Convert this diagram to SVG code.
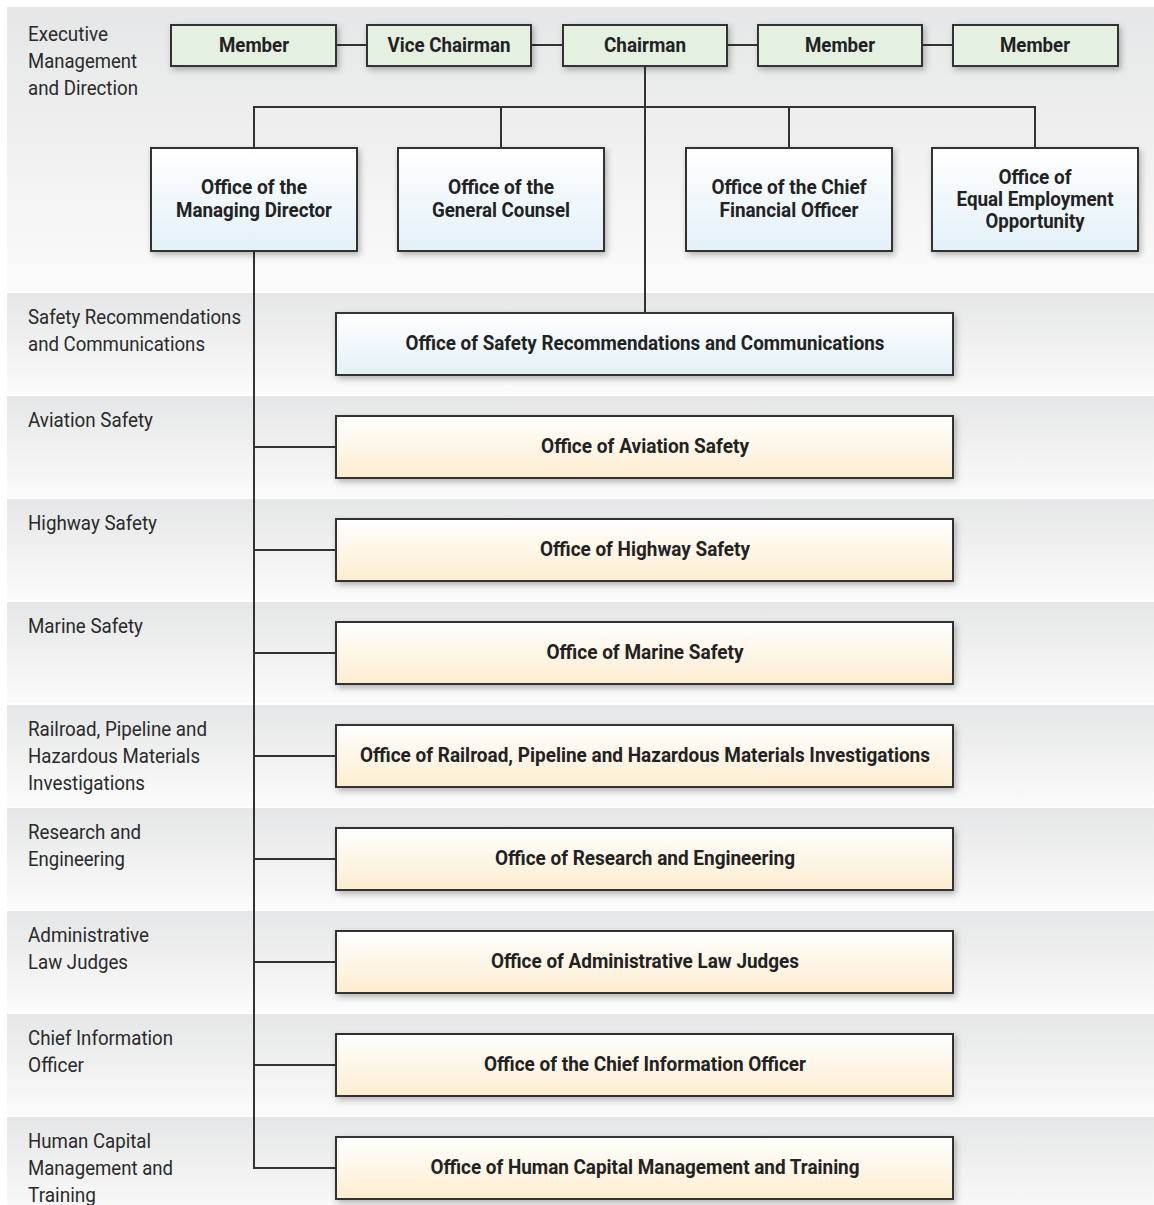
<svg xmlns="http://www.w3.org/2000/svg" width="1154" height="1205" viewBox="0 0 1154 1205">
<defs>
<linearGradient id="band" x1="0" y1="0" x2="0" y2="1"><stop offset="0" stop-color="#e5e6e7"/><stop offset="1" stop-color="#fbfbfb"/></linearGradient>
<linearGradient id="blue" x1="0" y1="0" x2="0" y2="1"><stop offset="0" stop-color="#ffffff"/><stop offset="1" stop-color="#e2f1f8"/></linearGradient>
<linearGradient id="orange" x1="0" y1="0" x2="0" y2="1"><stop offset="0" stop-color="#ffffff"/><stop offset="1" stop-color="#fdedd0"/></linearGradient>
<filter id="sh" x="-10%" y="-20%" width="120%" height="150%"><feDropShadow dx="2" dy="3" stdDeviation="3" flood-color="#000" flood-opacity="0.28"/></filter>
</defs>
<style>
.box{stroke:#333;stroke-width:2;filter:url(#sh)}
.g{fill:#e4f1e0}
.b{fill:url(#blue)}
.o{fill:url(#orange)}
.t{font-family:Roboto,"Liberation Sans",sans-serif;font-weight:bold;font-size:20px;fill:#222;text-anchor:middle}
.l{font-family:Roboto,"Liberation Sans",sans-serif;font-size:20px;fill:#2a2a2a}
.c{stroke:#333;stroke-width:2;fill:none}
</style>
<rect width="1154" height="1205" fill="#fff"/>
<g id="bands">
<rect x="7" y="7" width="1147" height="285" fill="url(#band)"/>
<rect x="7" y="293" width="1147" height="101" fill="url(#band)"/>
<rect x="7" y="396" width="1147" height="101" fill="url(#band)"/>
<rect x="7" y="499" width="1147" height="101" fill="url(#band)"/>
<rect x="7" y="602" width="1147" height="101" fill="url(#band)"/>
<rect x="7" y="705" width="1147" height="101" fill="url(#band)"/>
<rect x="7" y="808" width="1147" height="101" fill="url(#band)"/>
<rect x="7" y="911" width="1147" height="101" fill="url(#band)"/>
<rect x="7" y="1014" width="1147" height="101" fill="url(#band)"/>
<rect x="7" y="1117" width="1147" height="100" fill="url(#band)"/>
</g>
<g id="labels">
<text class="l" x="28" y="41" textLength="80" lengthAdjust="spacingAndGlyphs">Executive</text>
<text class="l" x="28" y="68" textLength="109" lengthAdjust="spacingAndGlyphs">Management</text>
<text class="l" x="28" y="95" textLength="110" lengthAdjust="spacingAndGlyphs">and Direction</text>
<text class="l" x="28" y="324" textLength="213" lengthAdjust="spacingAndGlyphs">Safety Recommendations</text>
<text class="l" x="28" y="351" textLength="177" lengthAdjust="spacingAndGlyphs">and Communications</text>
<text class="l" x="28" y="427" textLength="125" lengthAdjust="spacingAndGlyphs">Aviation Safety</text>
<text class="l" x="28" y="530" textLength="129" lengthAdjust="spacingAndGlyphs">Highway Safety</text>
<text class="l" x="28" y="633" textLength="115" lengthAdjust="spacingAndGlyphs">Marine Safety</text>
<text class="l" x="28" y="736" textLength="179" lengthAdjust="spacingAndGlyphs">Railroad, Pipeline and</text>
<text class="l" x="28" y="763" textLength="172" lengthAdjust="spacingAndGlyphs">Hazardous Materials</text>
<text class="l" x="28" y="790" textLength="117" lengthAdjust="spacingAndGlyphs">Investigations</text>
<text class="l" x="28" y="839" textLength="113" lengthAdjust="spacingAndGlyphs">Research and</text>
<text class="l" x="28" y="866" textLength="97" lengthAdjust="spacingAndGlyphs">Engineering</text>
<text class="l" x="28" y="942" textLength="121" lengthAdjust="spacingAndGlyphs">Administrative</text>
<text class="l" x="28" y="969" textLength="100" lengthAdjust="spacingAndGlyphs">Law Judges</text>
<text class="l" x="28" y="1045" textLength="145" lengthAdjust="spacingAndGlyphs">Chief Information</text>
<text class="l" x="28" y="1072" textLength="56" lengthAdjust="spacingAndGlyphs">Officer</text>
<text class="l" x="28" y="1148" textLength="123" lengthAdjust="spacingAndGlyphs">Human Capital</text>
<text class="l" x="28" y="1175" textLength="145" lengthAdjust="spacingAndGlyphs">Management and</text>
<text class="l" x="28" y="1202" textLength="68" lengthAdjust="spacingAndGlyphs">Training</text>
</g>
<g id="connectors">
<path class="c" d="M336 45H367M531 45H563M727 45H758M922 45H953"/>
<path class="c" d="M645 66V313"/>
<path class="c" d="M254 148V107H1035V148M501 107V148M789 107V148"/>
<path class="c" d="M254 251V1168H336"/>
<path class="c" d="M254 447H336M254 550H336M254 653H336M254 756H336M254 859H336M254 962H336M254 1065H336"/>
</g>
<g id="member1"><rect class="box g" x="171" y="25" width="165" height="41"/><text class="t" x="254" y="52" textLength="70" lengthAdjust="spacingAndGlyphs">Member</text></g>
<g id="vicechairman"><rect class="box g" x="367" y="25" width="164" height="41"/><text class="t" x="449" y="52" textLength="123" lengthAdjust="spacingAndGlyphs">Vice Chairman</text></g>
<g id="chairman"><rect class="box g" x="563" y="25" width="164" height="41"/><text class="t" x="645" y="52" textLength="82" lengthAdjust="spacingAndGlyphs">Chairman</text></g>
<g id="member2"><rect class="box g" x="758" y="25" width="164" height="41"/><text class="t" x="840" y="52" textLength="70" lengthAdjust="spacingAndGlyphs">Member</text></g>
<g id="member3"><rect class="box g" x="953" y="25" width="165" height="41"/><text class="t" x="1035" y="52" textLength="70" lengthAdjust="spacingAndGlyphs">Member</text></g>
<g id="managingdirector"><rect class="box b" x="151" y="148" width="206" height="103"/><text class="t" x="254" y="194" textLength="106" lengthAdjust="spacingAndGlyphs">Office of the</text><text class="t" x="254" y="217" textLength="156" lengthAdjust="spacingAndGlyphs">Managing Director</text></g>
<g id="generalcounsel"><rect class="box b" x="398" y="148" width="206" height="103"/><text class="t" x="501" y="194" textLength="106" lengthAdjust="spacingAndGlyphs">Office of the</text><text class="t" x="501" y="217" textLength="138" lengthAdjust="spacingAndGlyphs">General Counsel</text></g>
<g id="cfo"><rect class="box b" x="686" y="148" width="206" height="103"/><text class="t" x="789" y="194" textLength="155" lengthAdjust="spacingAndGlyphs">Office of the Chief</text><text class="t" x="789" y="217" textLength="139" lengthAdjust="spacingAndGlyphs">Financial Officer</text></g>
<g id="eeo"><rect class="box b" x="932" y="148" width="206" height="103"/><text class="t" x="1035" y="184" textLength="73" lengthAdjust="spacingAndGlyphs">Office of</text><text class="t" x="1035" y="206" textLength="157" lengthAdjust="spacingAndGlyphs">Equal Employment</text><text class="t" x="1035" y="228" textLength="99" lengthAdjust="spacingAndGlyphs">Opportunity</text></g>
<g id="safetyrec"><rect class="box b" x="336" y="313" width="617" height="62"/><text class="t" x="645" y="350" textLength="479" lengthAdjust="spacingAndGlyphs">Office of Safety Recommendations and Communications</text></g>
<g id="aviation"><rect class="box o" x="336" y="416" width="617" height="62"/><text class="t" x="645" y="453" textLength="208" lengthAdjust="spacingAndGlyphs">Office of Aviation Safety</text></g>
<g id="highway"><rect class="box o" x="336" y="519" width="617" height="62"/><text class="t" x="645" y="556" textLength="210" lengthAdjust="spacingAndGlyphs">Office of Highway Safety</text></g>
<g id="marine"><rect class="box o" x="336" y="622" width="617" height="62"/><text class="t" x="645" y="659" textLength="197" lengthAdjust="spacingAndGlyphs">Office of Marine Safety</text></g>
<g id="railroad"><rect class="box o" x="336" y="725" width="617" height="62"/><text class="t" x="645" y="762" textLength="570" lengthAdjust="spacingAndGlyphs">Office of Railroad, Pipeline and Hazardous Materials Investigations</text></g>
<g id="research"><rect class="box o" x="336" y="828" width="617" height="62"/><text class="t" x="645" y="865" textLength="300" lengthAdjust="spacingAndGlyphs">Office of Research and Engineering</text></g>
<g id="adminlaw"><rect class="box o" x="336" y="931" width="617" height="62"/><text class="t" x="645" y="968" textLength="308" lengthAdjust="spacingAndGlyphs">Office of Administrative Law Judges</text></g>
<g id="cio"><rect class="box o" x="336" y="1034" width="617" height="62"/><text class="t" x="645" y="1071" textLength="322" lengthAdjust="spacingAndGlyphs">Office of the Chief Information Officer</text></g>
<g id="humancapital"><rect class="box o" x="336" y="1137" width="617" height="62"/><text class="t" x="645" y="1174" textLength="429" lengthAdjust="spacingAndGlyphs">Office of Human Capital Management and Training</text></g>
</svg>
